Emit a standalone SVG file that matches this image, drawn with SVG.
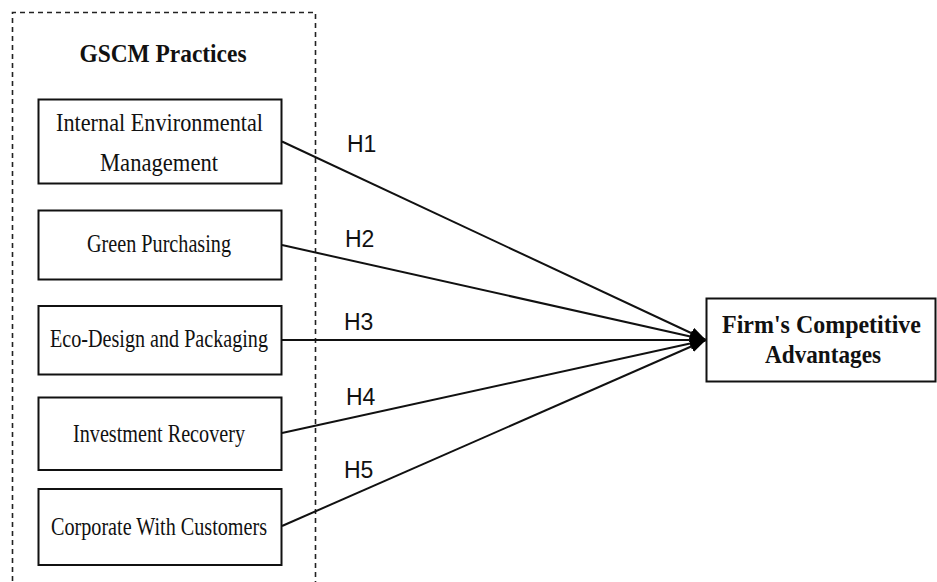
<svg xmlns="http://www.w3.org/2000/svg" width="937" height="582" viewBox="0 0 937 582">
<defs>
<marker id="ah" viewBox="0 0 16 12" refX="16" refY="6" markerWidth="16" markerHeight="12" markerUnits="userSpaceOnUse" orient="auto">
<path d="M0,0 L16,6 L0,12 z" fill="#000"/>
</marker>
<style>
.box{fill:#fff;stroke:#111;stroke-width:2}
.t{font-family:"Liberation Serif","Times New Roman",serif;font-size:26px;fill:#111;text-anchor:middle}
.b{font-family:"Liberation Serif","Times New Roman",serif;font-weight:bold;fill:#111;text-anchor:middle}
.h{font-family:"Liberation Sans",Arial,sans-serif;font-size:23px;fill:#111}
.c{stroke:#111;stroke-width:2;fill:none;marker-end:url(#ah)}
.dash{fill:none;stroke:#222;stroke-width:1.6;stroke-dasharray:5 4}
</style>
</defs>
<rect width="937" height="582" fill="#fff"/>
<g id="group">
<path class="dash" d="M12.5,590 L12.5,12.5 L315.5,12.5 L315.5,590"/>
<text class="b" x="163" y="62" font-size="25" textLength="167" lengthAdjust="spacingAndGlyphs">GSCM Practices</text>
</g>
<g id="connectors">
<line class="c" x1="282" y1="141.5" x2="706" y2="340"/>
<line class="c" x1="282" y1="245" x2="706" y2="340"/>
<line class="c" x1="282" y1="340" x2="706" y2="340"/>
<line class="c" x1="282" y1="433" x2="706" y2="340"/>
<line class="c" x1="282" y1="526" x2="706" y2="340"/>
<text class="h" x="347" y="152">H1</text>
<text class="h" x="345" y="246.5">H2</text>
<text class="h" x="344" y="330">H3</text>
<text class="h" x="346" y="405">H4</text>
<text class="h" x="344" y="478">H5</text>
</g>
<g id="n1">
<rect class="box" x="38.5" y="99.5" width="243" height="84"/>
<text class="t" x="159.5" y="131" textLength="207" lengthAdjust="spacingAndGlyphs">Internal Environmental</text>
<text class="t" x="159" y="171" textLength="118" lengthAdjust="spacingAndGlyphs">Management</text>
</g>
<g id="n2">
<rect class="box" x="38.5" y="210.5" width="243" height="69"/>
<text class="t" x="159" y="252.3" textLength="144" lengthAdjust="spacingAndGlyphs">Green Purchasing</text>
</g>
<g id="n3">
<rect class="box" x="38.5" y="306" width="243" height="68.5"/>
<text class="t" x="159" y="347" textLength="218" lengthAdjust="spacingAndGlyphs">Eco-Design and Packaging</text>
</g>
<g id="n4">
<rect class="box" x="38.5" y="397.5" width="243" height="72.5"/>
<text class="t" x="159" y="442" textLength="172" lengthAdjust="spacingAndGlyphs">Investment Recovery</text>
</g>
<g id="n5">
<rect class="box" x="38.5" y="489" width="243" height="76"/>
<text class="t" x="159" y="535" textLength="216" lengthAdjust="spacingAndGlyphs">Corporate With Customers</text>
</g>
<g id="firm">
<rect class="box" x="706.5" y="298.5" width="229" height="83"/>
<text class="b" x="821.5" y="333" font-size="26" textLength="199" lengthAdjust="spacingAndGlyphs">Firm's Competitive</text>
<text class="b" x="823" y="363" font-size="26" textLength="116" lengthAdjust="spacingAndGlyphs">Advantages</text>
</g>
</svg>
